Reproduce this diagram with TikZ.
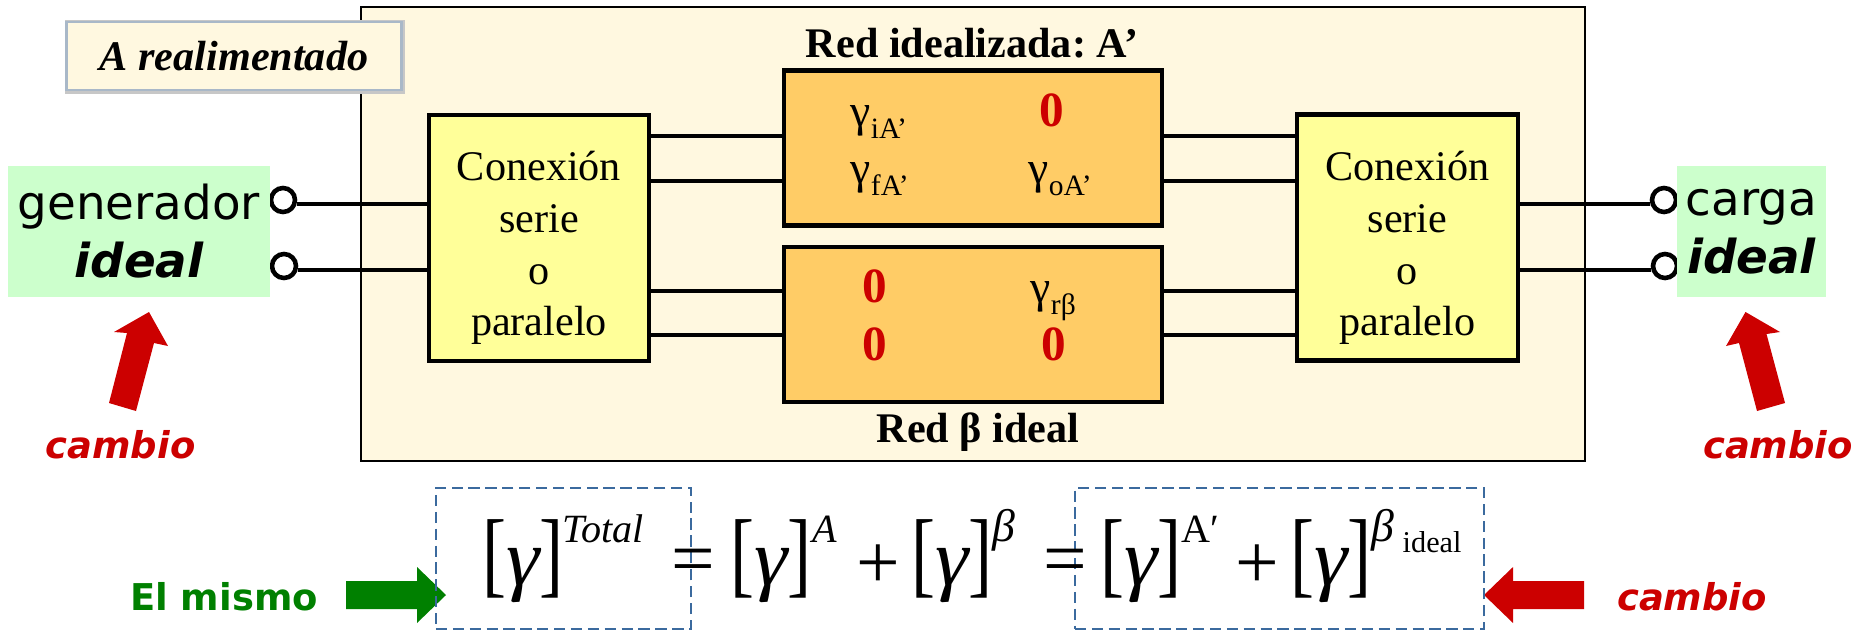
\documentclass[tikz,border=0pt]{standalone}
\usepackage{fontspec}
\usepackage{graphicx}
\setmainfont{Liberation Serif}
\newfontfamily\verd{DejaVu Sans}
\usetikzlibrary{positioning}
\definecolor{crema}{HTML}{FFF8E0}
\definecolor{amar}{HTML}{FFFF99}
\definecolor{naran}{HTML}{FFCC66}
\definecolor{verdec}{HTML}{CCFFCC}
\definecolor{rojo}{HTML}{CC0000}
\definecolor{verdeo}{HTML}{008000}
\definecolor{azul}{HTML}{3B6A9E}
\definecolor{grisaz}{HTML}{A9B8C8}
\newcommand{\fs}[1]{\fontsize{#1}{#1}\selectfont}
\newcommand{\gsub}[1]{γ\raisebox{-3.5pt}{\fs{8.4}#1}}
\newcommand{\brg}{{\scalebox{0.76}[1]{\fs{27}[}\scalebox{1.2}[1.15]{\fs{20}\itshape γ}\scalebox{0.76}[1]{\fs{27}]}}}
\tikzset{
  wire/.style={line width=1.2pt},
  conbox/.style={draw, line width=1.3pt, fill=amar, inner sep=0pt,
                 minimum width=2.2cm, minimum height=2.46cm},
  contxt/.style={inner sep=0pt, align=center, font=\fontsize{12}{14.7}\selectfont},
  redbox/.style={draw, line width=1.3pt, fill=naran, inner sep=0pt,
                 minimum width=3.78cm, minimum height=1.55cm},
  gambox/.style={fill=verdec, inner sep=0pt, align=center, minimum height=1.31cm,
                 font=\verd\fontsize{13.3}{16.5}\selectfont},
  term/.style={draw, circle, line width=1.3pt, fill=white, inner sep=0pt, minimum size=0.24cm},
  cero/.style={anchor=base, inner sep=0pt, text=rojo, font=\fs{14}\bfseries},
  gam/.style={anchor=base west, inner sep=0pt, font=\fs{13}},
  tit/.style={anchor=base, inner sep=0pt, font=\fs{12}\bfseries},
  rojotxt/.style={anchor=base, inner sep=0pt, text=rojo, font=\verd\fs{10.5}\bfseries\itshape},
  brk/.style={inner sep=0pt},
  sup/.style={anchor=base west, inner sep=0pt, font=\fs{11.4}\itshape},
  oper/.style={inner sep=0pt, font=\fs{22}},
  dbox/.style={draw=azul, line width=0.6pt, dash pattern=on 3.2pt off 1.6pt, inner sep=0pt,
               minimum height=1.41cm}
}
\begin{document}
\frenchspacing
\begin{tikzpicture}[x=0.01cm, y=-0.01cm]
  \useasboundingbox (0,0) rectangle (1858,630);

  % marco
  \node[draw, line width=0.55pt, fill=crema, inner sep=0pt, minimum width=12.24cm, minimum height=4.54cm]
    (marco) at (973,234) {};
  \node[draw=grisaz, line width=0.8pt, fill=crema, inner sep=0pt, minimum width=3.34cm,
    minimum height=0.68cm, font=\fs{12}\bfseries\itshape,
    preaction={draw=black!22, line width=1.8pt, transform canvas={xshift=0.01cm, yshift=-0.01cm}}]
    (areal) at (234,56) {A realimentado};

  % bloques
  \node[conbox] (conL) at (539,238) {};
  \node[conbox, minimum width=2.21cm] (conR) at (1407.5,237.5) {};
  \node[contxt] (txtL) at (539,248) {Conexión\\serie\\o\\paralelo};
  \node[contxt] (txtR) at (1407.5,248) {Conexión\\serie\\o\\paralelo};
  \node[redbox] (redA) at (973,148) {};
  \node[redbox] (redB) at (973,324.5) {};

  \node[tit] (tA) at (972,57) {Red idealizada: A’};
  \node[tit] (tB) at (978,442) {Red β ideal};

  \node[gam] (gi) at (850,126) {\gsub{iA’}};
  \node[gam] (gf) at (850,183) {\gsub{fA’}};
  \node[gam] (go) at (1028,183) {\gsub{oA’}};
  \node[gam] (gr) at (1030,302) {\gsub{rβ}};
  \node[cero] (z1) at (1052,126) {0};
  \node[cero] (z2) at (875,302) {0};
  \node[cero] (z3) at (875,360) {0};
  \node[cero] (z4) at (1054,360) {0};

  % lineas
  \draw[wire] (conL.east |- 0,136) -- (redA.west |- 0,136);
  \draw[wire] (conL.east |- 0,181) -- (redA.west |- 0,181);
  \draw[wire] (conL.east |- 0,291) -- (redB.west |- 0,291);
  \draw[wire] (conL.east |- 0,335) -- (redB.west |- 0,335);
  \draw[wire] (redA.east |- 0,136) -- (conR.west |- 0,136);
  \draw[wire] (redA.east |- 0,181) -- (conR.west |- 0,181);
  \draw[wire] (redB.east |- 0,291) -- (conR.west |- 0,291);
  \draw[wire] (redB.east |- 0,335) -- (conR.west |- 0,335);

  % generador y carga
  \node[term] (t1) at (283,200) {};
  \node[term] (t2) at (284,266) {};
  \node[term] (t3) at (1664,200) {};
  \node[term] (t4) at (1665,266) {};
  \draw[wire] (t1.-15) -- (t1.-15 -| conL.west);
  \draw[wire] (t2.-15) -- (t2.-15 -| conL.west);
  \draw[wire] (t3.195) -- (t3.195 -| conR.east);
  \draw[wire] (t4.195) -- (t4.195 -| conR.east);
  \node[gambox, minimum width=2.62cm] (gen) at (139,231.5) {generador\\{\bfseries\itshape ideal}};
  \node[gambox, minimum width=1.49cm] (car) at (1751.5,231.5) {carga\\{\bfseries\itshape ideal}};

  % flechas
  \fill[rojo] (149,312) -- (168,346) -- (154,343) -- (136,411) -- (109,403) -- (127,333) -- (114,332) -- cycle;
  \fill[rojo] (1745.5,312) -- (1780,332) -- (1766.5,334) -- (1785,403) -- (1757,411) -- (1739,343) -- (1726,346) -- cycle;
  \fill[verdeo] (446,595) -- (417,623) -- (417,609) -- (346,609) -- (346,581) -- (417,581) -- (417,567) -- cycle;
  \fill[rojo] (1484,595) -- (1513,623) -- (1513,609) -- (1584,609) -- (1584,581) -- (1513,581) -- (1513,567) -- cycle;

  \node[rojotxt] (c1) at (120.5,458) {cambio};
  \node[rojotxt] (c2) at (1778,458) {cambio};
  \node[rojotxt] (c3) at (1692,610) {cambio};
  \node[rojotxt, text=verdeo, font=\verd\fs{10.5}\bfseries] (mis) at (224,610) {El mismo};

  % ecuacion
  \node[dbox, minimum width=2.55cm] (d1) at (563.5,558.5) {};
  \node[dbox, minimum width=4.09cm] (d2) at (1279.5,558.5) {};
  \node[brk] (b1) at (523,561) {\brg};
  \node[brk] (b2) at (771,561) {\brg};
  \node[brk] (b3) at (952,561) {\brg};
  \node[brk] (b4) at (1141,561) {\brg};
  \node[brk] (b5) at (1331,561) {\brg};
  \node[sup] (s1) at (562,542) {Total};
  \node[sup] (s2) at (812,542) {A};
  \node[sup, font=\fs{13}\itshape] (s3) at (992,541) {β};
  \node[sup, font=\fs{11.4}] (s4) at (1181,542) {A′};
  \node[sup, font=\fs{13}\itshape] (s5) at (1371,541) {β};
  \node[sup, font=\fs{8.6}] (s6) at (1402,552) {ideal};
  \node[oper] (e1) at (693,567) {=};
  \node[oper] (p1) at (878,567) {+};
  \node[oper] (e2) at (1065,567) {=};
  \node[oper] (p2) at (1257,567) {+};
\end{tikzpicture}
\end{document}
